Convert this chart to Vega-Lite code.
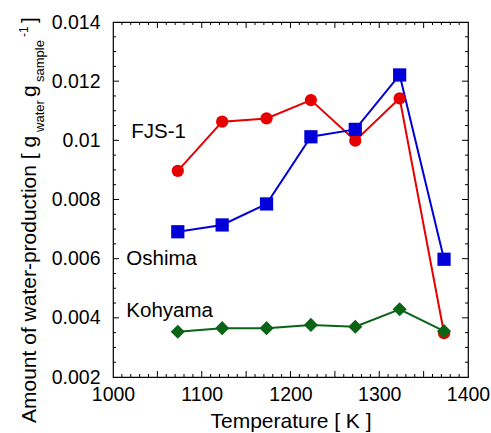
{
  "$schema": "https://vega.github.io/schema/vega-lite/v6.json",
  "width": 355,
  "height": 355,
  "autosize": "none",
  "padding": {"left": 113, "top": 22, "right": 23, "bottom": 56},
  "background": "white",
  "config": {
    "view": {"stroke": "black", "strokeWidth": 1.2},
    "font": "Liberation Sans",
    "axis": {
      "labelFont": "Liberation Sans",
      "labelFontSize": 19.5,
      "labelColor": "black",
      "titleFont": "Liberation Sans",
      "titleFontSize": 21,
      "titleFontWeight": "normal",
      "titleColor": "black",
      "ticks": false,
      "domain": false,
      "grid": false,
      "labelOverlap": false,
      "labelFlush": false,
      "labelBound": false
    }
  },
  "datasets": {
    "series": [
      {"sample": "FJS-1", "T": 1073, "W": 0.00897},
      {"sample": "FJS-1", "T": 1123, "W": 0.01063},
      {"sample": "FJS-1", "T": 1173, "W": 0.01074},
      {"sample": "FJS-1", "T": 1223, "W": 0.01136},
      {"sample": "FJS-1", "T": 1273, "W": 0.00999},
      {"sample": "FJS-1", "T": 1323, "W": 0.01142},
      {"sample": "FJS-1", "T": 1373, "W": 0.00348},
      {"sample": "Oshima", "T": 1073, "W": 0.00691},
      {"sample": "Oshima", "T": 1123, "W": 0.00714},
      {"sample": "Oshima", "T": 1173, "W": 0.00785},
      {"sample": "Oshima", "T": 1223, "W": 0.01012},
      {"sample": "Oshima", "T": 1273, "W": 0.01037},
      {"sample": "Oshima", "T": 1323, "W": 0.01221},
      {"sample": "Oshima", "T": 1373, "W": 0.00598},
      {"sample": "Kohyama", "T": 1073, "W": 0.00353},
      {"sample": "Kohyama", "T": 1123, "W": 0.00365},
      {"sample": "Kohyama", "T": 1173, "W": 0.00365},
      {"sample": "Kohyama", "T": 1223, "W": 0.00376},
      {"sample": "Kohyama", "T": 1273, "W": 0.00370},
      {"sample": "Kohyama", "T": 1323, "W": 0.00429},
      {"sample": "Kohyama", "T": 1373, "W": 0.00355}
    ],
    "labels": [
      {"text": "FJS-1", "T": 1020.5, "W": 0.01008},
      {"text": "Oshima", "T": 1015, "W": 0.005786},
      {"text": "Kohyama", "T": 1015, "W": 0.004038}
    ],
    "ytitleMain": [
      {"text": "Amount of water-production [ g", "T": 912.7, "W": 0.000445},
      {"text": "g", "T": 912.7, "W": 0.011465},
      {"text": "]", "T": 912.7, "W": 0.013966}
    ],
    "ytitleSub": [
      {"text": "water", "T": 921.7, "W": 0.010282},
      {"text": "sample", "T": 921.7, "W": 0.011972}
    ],
    "ytitleSup": [
      {"text": "-1", "T": 903.7, "W": 0.013493}
    ],
    "xMajor": [
      {"v": 1050}, {"v": 1100}, {"v": 1150}, {"v": 1200}, {"v": 1250}, {"v": 1300}, {"v": 1350}
    ],
    "xMinor": [
      {"v": 1010}, {"v": 1020}, {"v": 1030}, {"v": 1040}, {"v": 1060}, {"v": 1070}, {"v": 1080}, {"v": 1090},
      {"v": 1110}, {"v": 1120}, {"v": 1130}, {"v": 1140}, {"v": 1160}, {"v": 1170}, {"v": 1180}, {"v": 1190},
      {"v": 1210}, {"v": 1220}, {"v": 1230}, {"v": 1240}, {"v": 1260}, {"v": 1270}, {"v": 1280}, {"v": 1290},
      {"v": 1310}, {"v": 1320}, {"v": 1330}, {"v": 1340}, {"v": 1360}, {"v": 1370}, {"v": 1380}, {"v": 1390}
    ],
    "yMajor": [
      {"v": 0.004}, {"v": 0.006}, {"v": 0.008}, {"v": 0.01}, {"v": 0.012}
    ],
    "yMinor": [
      {"v": 0.0025}, {"v": 0.003}, {"v": 0.0035}, {"v": 0.0045}, {"v": 0.005}, {"v": 0.0055},
      {"v": 0.0065}, {"v": 0.007}, {"v": 0.0075}, {"v": 0.0085}, {"v": 0.009}, {"v": 0.0095},
      {"v": 0.0105}, {"v": 0.011}, {"v": 0.0115}, {"v": 0.0125}, {"v": 0.013}, {"v": 0.0135}
    ]
  },
  "layer": [
    {
      "data": {"name": "series"},
      "mark": {"type": "line", "strokeWidth": 2},
      "encoding": {
        "x": {
          "field": "T", "type": "quantitative",
          "scale": {"domain": [1000, 1400], "nice": false, "zero": false},
          "axis": {
            "orient": "bottom",
            "values": [1000, 1100, 1200, 1300, 1400],
            "format": "d",
            "labelPadding": 8,
            "title": "Temperature [ K ]",
            "titlePadding": 7
          }
        },
        "y": {
          "field": "W", "type": "quantitative",
          "scale": {"domain": [0.002, 0.014], "nice": false, "zero": false},
          "axis": {
            "orient": "left",
            "values": [0.002, 0.004, 0.006, 0.008, 0.01, 0.012, 0.014],
            "labelExpr": "format(datum.value, '~g')",
            "labelPadding": 13,
            "title": null
          }
        },
        "color": {
          "field": "sample", "type": "nominal",
          "scale": {"domain": ["FJS-1", "Oshima", "Kohyama"], "range": ["#e60000", "#0000d8", "#0b6416"]},
          "legend": null
        }
      }
    },
    {
      "data": {"name": "series"},
      "mark": {"type": "point", "filled": true, "opacity": 1, "strokeWidth": 0},
      "encoding": {
        "x": {"field": "T", "type": "quantitative", "scale": {"domain": [1000, 1400], "nice": false, "zero": false}, "axis": null},
        "y": {"field": "W", "type": "quantitative", "scale": {"domain": [0.002, 0.014], "nice": false, "zero": false}, "axis": null},
        "color": {
          "field": "sample", "type": "nominal",
          "scale": {"domain": ["FJS-1", "Oshima", "Kohyama"], "range": ["#e60000", "#0000d8", "#0b6416"]},
          "legend": null
        },
        "shape": {
          "field": "sample", "type": "nominal",
          "scale": {"domain": ["FJS-1", "Oshima", "Kohyama"], "range": ["circle", "square", "diamond"]},
          "legend": null
        },
        "size": {
          "field": "sample", "type": "nominal",
          "scale": {"domain": ["FJS-1", "Oshima", "Kohyama"], "range": [150, 200, 110]},
          "legend": null
        }
      }
    },
    {
      "data": {"name": "xMajor"},
      "mark": {"type": "rule", "color": "black", "strokeWidth": 1},
      "encoding": {
        "x": {"field": "v", "type": "quantitative", "scale": {"domain": [1000, 1400], "nice": false, "zero": false}, "axis": null},
        "y": {"datum": 0.002, "type": "quantitative", "scale": {"domain": [0.002, 0.014], "nice": false, "zero": false}, "axis": null},
        "y2": {"datum": 0.002203}
      }
    },
    {
      "data": {"name": "xMajor"},
      "mark": {"type": "rule", "color": "black", "strokeWidth": 1},
      "encoding": {
        "x": {"field": "v", "type": "quantitative", "scale": {"domain": [1000, 1400], "nice": false, "zero": false}, "axis": null},
        "y": {"datum": 0.014, "type": "quantitative", "scale": {"domain": [0.002, 0.014], "nice": false, "zero": false}, "axis": null},
        "y2": {"datum": 0.013797}
      }
    },
    {
      "data": {"name": "xMinor"},
      "mark": {"type": "rule", "color": "black", "strokeWidth": 1},
      "encoding": {
        "x": {"field": "v", "type": "quantitative", "scale": {"domain": [1000, 1400], "nice": false, "zero": false}, "axis": null},
        "y": {"datum": 0.002, "type": "quantitative", "scale": {"domain": [0.002, 0.014], "nice": false, "zero": false}, "axis": null},
        "y2": {"datum": 0.002101}
      }
    },
    {
      "data": {"name": "xMinor"},
      "mark": {"type": "rule", "color": "black", "strokeWidth": 1},
      "encoding": {
        "x": {"field": "v", "type": "quantitative", "scale": {"domain": [1000, 1400], "nice": false, "zero": false}, "axis": null},
        "y": {"datum": 0.014, "type": "quantitative", "scale": {"domain": [0.002, 0.014], "nice": false, "zero": false}, "axis": null},
        "y2": {"datum": 0.013899}
      }
    },
    {
      "data": {"name": "yMajor"},
      "mark": {"type": "rule", "color": "black", "strokeWidth": 1},
      "encoding": {
        "y": {"field": "v", "type": "quantitative", "scale": {"domain": [0.002, 0.014], "nice": false, "zero": false}, "axis": null},
        "x": {"datum": 1000, "type": "quantitative", "scale": {"domain": [1000, 1400], "nice": false, "zero": false}, "axis": null},
        "x2": {"datum": 1006.8}
      }
    },
    {
      "data": {"name": "yMajor"},
      "mark": {"type": "rule", "color": "black", "strokeWidth": 1},
      "encoding": {
        "y": {"field": "v", "type": "quantitative", "scale": {"domain": [0.002, 0.014], "nice": false, "zero": false}, "axis": null},
        "x": {"datum": 1400, "type": "quantitative", "scale": {"domain": [1000, 1400], "nice": false, "zero": false}, "axis": null},
        "x2": {"datum": 1393.2}
      }
    },
    {
      "data": {"name": "yMinor"},
      "mark": {"type": "rule", "color": "black", "strokeWidth": 1},
      "encoding": {
        "y": {"field": "v", "type": "quantitative", "scale": {"domain": [0.002, 0.014], "nice": false, "zero": false}, "axis": null},
        "x": {"datum": 1000, "type": "quantitative", "scale": {"domain": [1000, 1400], "nice": false, "zero": false}, "axis": null},
        "x2": {"datum": 1003.4}
      }
    },
    {
      "data": {"name": "yMinor"},
      "mark": {"type": "rule", "color": "black", "strokeWidth": 1},
      "encoding": {
        "y": {"field": "v", "type": "quantitative", "scale": {"domain": [0.002, 0.014], "nice": false, "zero": false}, "axis": null},
        "x": {"datum": 1400, "type": "quantitative", "scale": {"domain": [1000, 1400], "nice": false, "zero": false}, "axis": null},
        "x2": {"datum": 1396.6}
      }
    },
    {
      "data": {"name": "labels"},
      "mark": {"type": "text", "align": "left", "baseline": "alphabetic", "fontSize": 20.5, "font": "Liberation Sans", "color": "black"},
      "encoding": {
        "x": {"field": "T", "type": "quantitative", "scale": {"domain": [1000, 1400], "nice": false, "zero": false}, "axis": null},
        "y": {"field": "W", "type": "quantitative", "scale": {"domain": [0.002, 0.014], "nice": false, "zero": false}, "axis": null},
        "text": {"field": "text"}
      }
    },
    {
      "data": {"name": "ytitleMain"},
      "mark": {"type": "text", "angle": 270, "align": "left", "baseline": "alphabetic", "fontSize": 21, "font": "Liberation Sans", "color": "black"},
      "encoding": {
        "x": {"field": "T", "type": "quantitative", "scale": {"domain": [1000, 1400], "nice": false, "zero": false}, "axis": null},
        "y": {"field": "W", "type": "quantitative", "scale": {"domain": [0.002, 0.014], "nice": false, "zero": false}, "axis": null},
        "text": {"field": "text"}
      }
    },
    {
      "data": {"name": "ytitleSub"},
      "mark": {"type": "text", "angle": 270, "align": "left", "baseline": "alphabetic", "fontSize": 13, "font": "Liberation Sans", "color": "black"},
      "encoding": {
        "x": {"field": "T", "type": "quantitative", "scale": {"domain": [1000, 1400], "nice": false, "zero": false}, "axis": null},
        "y": {"field": "W", "type": "quantitative", "scale": {"domain": [0.002, 0.014], "nice": false, "zero": false}, "axis": null},
        "text": {"field": "text"}
      }
    },
    {
      "data": {"name": "ytitleSup"},
      "mark": {"type": "text", "angle": 270, "align": "left", "baseline": "alphabetic", "fontSize": 12, "font": "Liberation Sans", "color": "black"},
      "encoding": {
        "x": {"field": "T", "type": "quantitative", "scale": {"domain": [1000, 1400], "nice": false, "zero": false}, "axis": null},
        "y": {"field": "W", "type": "quantitative", "scale": {"domain": [0.002, 0.014], "nice": false, "zero": false}, "axis": null},
        "text": {"field": "text"}
      }
    }
  ],
  "resolve": {"axis": {"x": "independent", "y": "independent"}}
}
